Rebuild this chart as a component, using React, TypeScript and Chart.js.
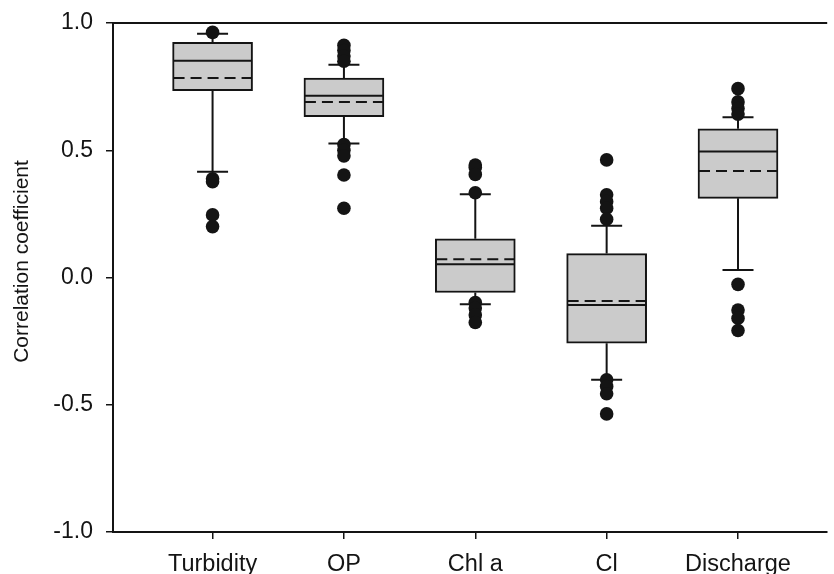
import React, { useEffect, useRef } from 'react';
import { Chart, registerables } from 'chart.js';

Chart.register(...registerables);

// ---- data ----
const categories = ['Turbidity', 'OP', 'Chl a', 'Cl', 'Discharge'];
const q1 = [0.734, 0.632, -0.059, -0.258, 0.311];
const q3 = [0.924, 0.784, 0.152, 0.094, 0.584];
const medians = [0.852, 0.714, 0.052, -0.108, 0.495];
const means = [0.784, 0.69, 0.072, -0.092, 0.418];
const whiskerLow = [0.416, 0.527, -0.105, -0.402, 0.029];
const whiskerHigh = [0.958, 0.836, 0.327, 0.203, 0.63];
const outTurbidity = [0.963, 0.388, 0.376, 0.246, 0.2];
const outOP = [0.912, 0.892, 0.87, 0.85, 0.522, 0.5, 0.478, 0.403, 0.272];
const outChla = [0.442, 0.432, 0.405, 0.333, -0.098, -0.12, -0.147, -0.177];
const outCl = [0.462, 0.325, 0.298, 0.272, 0.229, -0.402, -0.428, -0.457, -0.536];
const outDischarge = [0.742, 0.69, 0.664, 0.642, -0.027, -0.128, -0.16, -0.208];
const outliers = [outTurbidity, outOP, outChla, outCl, outDischarge];
const yTickValues = [-1, -0.5, 0, 0.5, 1];
const yTitle = 'Correlation coefficient';

const INK = '#141414';
const BOX_FILL = '#cbcbcb';
const FONT = "'Liberation Sans', Arial, sans-serif";
const BOX_HALF = 40;
const CAP_HALF = 15.5;

const boxExtras = {
  id: 'boxExtras',
  beforeDatasetsDraw(chart: any) {
    const { ctx, scales } = chart;
    const x = scales.x;
    const y = scales.y;
    ctx.save();
    ctx.strokeStyle = INK;
    ctx.lineWidth = 2;
    categories.forEach((_, i) => {
      const px = x.getPixelForValue(i + 1);
      const yHi = y.getPixelForValue(whiskerHigh[i]);
      const yLo = y.getPixelForValue(whiskerLow[i]);
      ctx.beginPath();
      ctx.moveTo(px, y.getPixelForValue(q3[i]));
      ctx.lineTo(px, yHi);
      ctx.moveTo(px, y.getPixelForValue(q1[i]));
      ctx.lineTo(px, yLo);
      ctx.moveTo(px - CAP_HALF, yHi);
      ctx.lineTo(px + CAP_HALF, yHi);
      ctx.moveTo(px - CAP_HALF, yLo);
      ctx.lineTo(px + CAP_HALF, yLo);
      ctx.stroke();
    });
    ctx.restore();
  },
  afterDatasetsDraw(chart: any) {
    const { ctx, scales, chartArea } = chart;
    const x = scales.x;
    const y = scales.y;
    ctx.save();
    ctx.strokeStyle = INK;
    ctx.lineWidth = 2;
    categories.forEach((_, i) => {
      const px = x.getPixelForValue(i + 1);
      const ym = y.getPixelForValue(medians[i]);
      ctx.setLineDash([]);
      ctx.beginPath();
      ctx.moveTo(px - BOX_HALF + 1, ym);
      ctx.lineTo(px + BOX_HALF - 1, ym);
      ctx.stroke();
      const ya = y.getPixelForValue(means[i]);
      ctx.setLineDash([11, 6]);
      ctx.beginPath();
      ctx.moveTo(px - BOX_HALF + 1, ya);
      ctx.lineTo(px + BOX_HALF - 1, ya);
      ctx.stroke();
    });
    ctx.setLineDash([]);
    // top frame line
    ctx.beginPath();
    ctx.moveTo(chartArea.left, chartArea.top);
    ctx.lineTo(chartArea.right, chartArea.top);
    ctx.stroke();
    ctx.restore();
  },
  afterDraw(chart: any) {
    const { ctx, chartArea } = chart;
    ctx.save();
    ctx.translate(28, (chartArea.top + chartArea.bottom) / 2 - 16);
    ctx.rotate(-Math.PI / 2);
    ctx.fillStyle = INK;
    ctx.font = `21px ${FONT}`;
    ctx.textAlign = 'center';
    ctx.textBaseline = 'alphabetic';
    ctx.fillText(yTitle, 0, 0);
    ctx.restore();
  },
};

export default function App() {
  const canvasRef = useRef<HTMLCanvasElement | null>(null);

  useEffect(() => {
    if (!canvasRef.current) return;
    const boxData = categories.map((_, i) => ({ x: i + 1, y: [q1[i], q3[i]] }));
    const outlierData: { x: number; y: number }[] = [];
    outliers.forEach((list, i) => list.forEach((v) => outlierData.push({ x: i + 1, y: v })));

    const axisGrid = {
      display: true,
      drawOnChartArea: false,
      drawTicks: true,
      tickLength: 7,
      color: INK,
      lineWidth: 1.5,
      offset: false,
    };
    const axisBorder = { display: true, color: INK, width: 2 };

    const chart = new Chart(canvasRef.current, {
      type: 'bar',
      data: {
        datasets: [
          {
            type: 'bar',
            data: boxData as any,
            backgroundColor: BOX_FILL,
            borderColor: INK,
            borderWidth: 2,
            borderSkipped: false,
            barThickness: BOX_HALF * 2,
            order: 2,
          } as any,
          {
            type: 'scatter',
            data: outlierData,
            pointRadius: 6.8,
            pointBackgroundColor: INK,
            pointBorderWidth: 0,
            showLine: false,
            order: 1,
          } as any,
        ],
      },
      options: {
        responsive: false,
        animation: false,
        events: [],
        layout: { padding: { top: 23, left: 0, right: 0, bottom: 0 } },
        plugins: { legend: { display: false }, tooltip: { enabled: false } },
        scales: {
          x: {
            type: 'linear',
            min: 0.242,
            max: 5.679,
            offset: false,
            afterBuildTicks: (s: any) => {
              s.ticks = categories.map((_, i) => ({ value: i + 1 }));
            },
            afterFit: (s: any) => {
              s.height = 42;
              s.paddingLeft = 0;
              s.paddingRight = 0;
            },
            grid: axisGrid,
            border: axisBorder,
            ticks: {
              autoSkip: false,
              maxRotation: 0,
              minRotation: 0,
              padding: 11,
              color: INK,
              font: { family: FONT, size: 23.5 },
              callback: (v: any) => categories[Math.round(Number(v)) - 1] ?? '',
            },
          } as any,
          y: {
            type: 'linear',
            min: -1,
            max: 1,
            afterBuildTicks: (s: any) => {
              s.ticks = yTickValues.map((v) => ({ value: v }));
            },
            afterFit: (s: any) => {
              s.width = 113;
              s.paddingTop = 0;
              s.paddingBottom = 0;
            },
            grid: axisGrid,
            border: axisBorder,
            ticks: {
              padding: 13,
              color: INK,
              font: { family: FONT, size: 23 },
              callback: (v: any) => Number(v).toFixed(1),
            },
          } as any,
        },
      },
      plugins: [boxExtras],
    });
    return () => chart.destroy();
  }, []);

  return (
    <div style={{ position: 'absolute', left: 0, top: 0, width: 834, height: 574, background: '#fff' }}>
      <canvas ref={canvasRef} width={834} height={574} style={{ display: 'block' }} />
    </div>
  );
}
